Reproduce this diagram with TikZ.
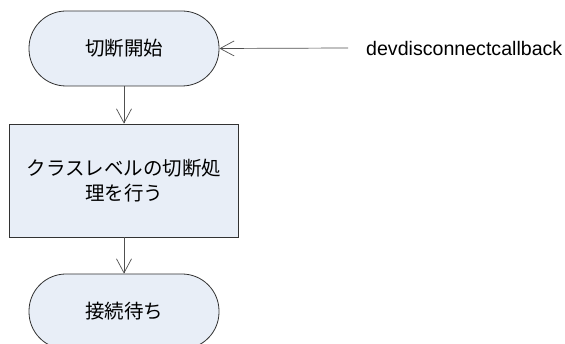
\documentclass[tikz,border=0pt]{standalone}
\usepackage{fontspec}
\setmainfont{Liberation Sans}
\newfontfamily\jpfont{Noto Sans CJK JP}
\usetikzlibrary{arrows.meta}
\definecolor{boxfill}{RGB}{232,238,247}
\definecolor{boxline}{RGB}{50,50,50}
\definecolor{arrline}{RGB}{80,80,80}
\begin{document}
\begin{tikzpicture}[x=1pt,y=1pt,
  terminal/.style={draw=boxline, fill=boxfill, line width=0.8pt, minimum width=190pt, minimum height=75pt, rounded corners=37pt, inner sep=0pt, font=\jpfont\fontsize{19.5}{25}\selectfont},
  procbox/.style={draw=boxline, fill=boxfill, line width=0.8pt, minimum width=229pt, minimum height=113pt, inner sep=0pt, align=center, font=\jpfont\fontsize{19.5}{25}\selectfont},
  conn/.style={draw=arrline, line width=0.7pt, -{Straight Barb[length=14pt,width=15pt,line width=0.7pt]}}]
\useasboundingbox (0,0) rectangle (565,-344);
\clip (0,0) rectangle (565,-344);
\node[terminal] (start) at (124,-48.5) {切断開始};
\node[procbox] (proc) at (124,-180.5) {クラスレベルの切断処\\理を行う};
\node[terminal] (wait) at (124,-311.5) {接続待ち};
\coordinate (cbend) at (348,-48);
\node[anchor=west, inner sep=0pt, font=\fontsize{19.6}{22}\selectfont] (cb) at (366,-48) {devdisconnectcallback};
\draw[conn] (start) -- (proc);
\draw[conn] (proc) -- (wait);
\draw[conn] (cbend) -- (start.east);
\end{tikzpicture}
\end{document}
